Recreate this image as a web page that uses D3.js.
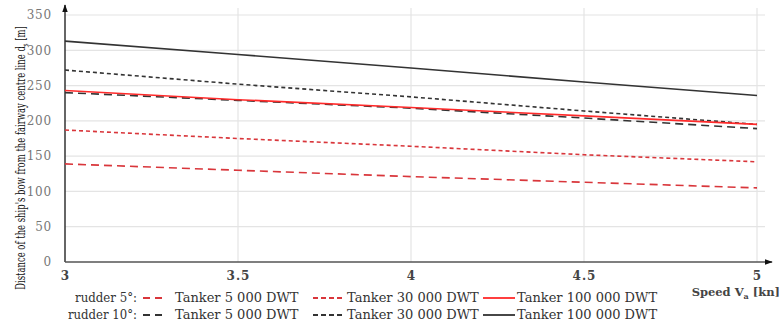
<!DOCTYPE html>
<html><head><meta charset="utf-8">
<script src="https://cdn.jsdelivr.net/npm/d3@7"></script>
<style>body{margin:0;background:#fff}svg{display:block}</style>
</head><body><svg id="c" width="782" height="329"></svg>
<script>
const speeds = [3, 3.5, 4, 4.5, 5];
const xTicks = [3, 3.5, 4, 4.5, 5];
const yTicks = [0, 50, 100, 150, 200, 250, 300, 350];
const r5_5k   = [139, 130, 121, 113, 105];
const r5_30k  = [187, 175, 164, 152, 142];
const r5_100k = [243, 230, 219, 207, 195];
const r10_5k   = [240, 229, 218, 204, 189];
const r10_30k  = [272, 252, 234, 214, 195];
const r10_100k = [313, 294, 275, 255, 236];
const seriesNames = ["Tanker 5 000 DWT", "Tanker 30 000 DWT", "Tanker 100 000 DWT"];

const styles = { long: "8,5", short: "4,3", solid: null };
const series = [
  {v: r5_5k, c: "#d9363b", d: "long"},
  {v: r5_30k, c: "#d9363b", d: "short"},
  {v: r10_5k, c: "#333", d: "long"},
  {v: r10_30k, c: "#333", d: "short"},
  {v: r5_100k, c: "#ff2a2a", d: "solid"},
  {v: r10_100k, c: "#333", d: "solid"}
];

const svg = d3.select("#c");
const x = d3.scaleLinear().domain([3, 5]).range([65, 757]);
const y = d3.scaleLinear().domain([0, 350]).range([262, 15]);

svg.append("g").selectAll("line").data(yTicks.slice(1)).join("line")
  .attr("x1", 65).attr("x2", 765).attr("y1", d => y(d)).attr("y2", d => y(d))
  .attr("stroke", "#e4e4e4").attr("stroke-width", 1.2);
svg.append("g").selectAll("line").data(xTicks.slice(1)).join("line")
  .attr("x1", d => x(d)).attr("x2", d => x(d)).attr("y1", 8).attr("y2", 262)
  .attr("stroke", "#e4e4e4").attr("stroke-width", 1.2);

const serif = "DejaVu Serif";
const yAxis = d3.axisLeft(y).tickValues(yTicks).tickSize(0).tickPadding(13);
const gy = svg.append("g").attr("transform", "translate(65,0)").call(yAxis);
gy.select(".domain").remove();
gy.selectAll("text").attr("font-family", serif).attr("font-size", 12)
  .attr("fill", "#777").attr("letter-spacing", 0.8);

const xAxis = d3.axisBottom(x).tickValues(xTicks).tickSize(0).tickPadding(9).tickFormat(d3.format("~g"));
const gx = svg.append("g").attr("transform", "translate(0,262)").call(xAxis);
gx.select(".domain").remove();
gx.selectAll("text").attr("font-family", serif).attr("font-size", 12)
  .attr("fill", "#444").attr("font-weight", "bold").attr("letter-spacing", 1);

const defs = svg.append("defs");
defs.append("marker").attr("id", "arr").attr("viewBox", "0 0 10 10").attr("refX", 9).attr("refY", 5)
  .attr("markerWidth", 8).attr("markerHeight", 8).attr("orient", "auto-start-reverse")
  .attr("markerUnits", "userSpaceOnUse")
  .append("path").attr("d", "M0,1.5L10,5L0,8.5z").attr("fill", "#111");
svg.append("line").attr("x1", 65).attr("x2", 65).attr("y1", 262).attr("y2", 5)
  .attr("stroke", "#333").attr("stroke-width", 1.5).attr("marker-end", "url(#arr)");
svg.append("line").attr("x1", 65).attr("x2", 772).attr("y1", 262).attr("y2", 262)
  .attr("stroke", "#555").attr("stroke-width", 1.5).attr("marker-end", "url(#arr)");

const line = d3.line().x((d, i) => x(speeds[i])).y(d => y(d));
svg.append("g").selectAll("path").data(series).join("path")
  .attr("d", s => line(s.v)).attr("fill", "none").attr("stroke", s => s.c)
  .attr("stroke-width", 1.6).attr("stroke-dasharray", s => styles[s.d]);

// y title, condensed by horizontal scaling to fit the height
const ytg = svg.append("g");
const yt = ytg.append("text").attr("text-anchor", "middle").attr("font-family", serif)
  .attr("font-size", 13).attr("fill", "#111");
yt.append("tspan").text("Distance of the ship's bow from the fairway centre line d");
yt.append("tspan").attr("font-size", 8).attr("dy", 3).text("s");
yt.append("tspan").attr("dy", -3).text(" [m]");
const natural = yt.node().getComputedTextLength();
const k = 264 / natural;
ytg.attr("transform", `translate(25,158) rotate(-90) scale(${k},1)`);

const xt = svg.append("text").attr("x", 780).attr("y", 296).attr("text-anchor", "end")
  .attr("font-family", serif).attr("font-size", 11.5).attr("font-weight", "bold").attr("fill", "#444");
xt.append("tspan").text("Speed V");
xt.append("tspan").attr("font-size", 8).attr("dy", 3).text("a");
xt.append("tspan").attr("dy", -3).text(" [kn]");

const rows = [
  {label: "rudder 5°:", y: 302, w: 62, items: [{c:"#d9363b", d:"long"}, {c:"#d9363b", d:"short"}, {c:"#ff2a2a", d:"solid"}]},
  {label: "rudder 10°:", y: 319, w: 69, items: [{c:"#333", d:"long"}, {c:"#333", d:"short"}, {c:"#333", d:"solid"}]}
];
const sampleX = [[143, 166], [313, 345], [483, 515]];
const textX = [175, 347, 517];
const lg = svg.append("g").attr("font-family", serif).attr("font-size", 13)
  .attr("fill", "#333");
rows.forEach(r => {
  lg.append("text").attr("x", 137).attr("y", r.y).attr("text-anchor", "end")
    .attr("textLength", r.w).attr("lengthAdjust", "spacingAndGlyphs").text(r.label);
  r.items.forEach((it, i) => {
    lg.append("line").attr("x1", sampleX[i][0]).attr("x2", sampleX[i][1])
      .attr("y1", r.y - 4).attr("y2", r.y - 4).attr("stroke", it.c).attr("stroke-width", 1.8)
      .attr("stroke-dasharray", it.d === "long" ? "7,5" : it.d === "short" ? "5,3" : null);
    lg.append("text").attr("x", textX[i]).attr("y", r.y).text(seriesNames[i]);
  });
});
</script></body></html>
